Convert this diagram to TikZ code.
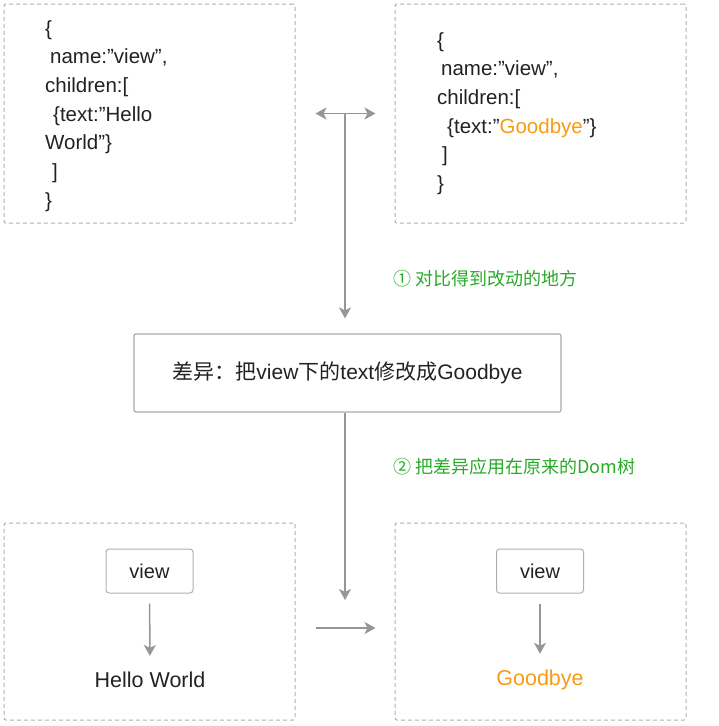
\documentclass[tikz,border=0pt]{standalone}
\usepackage{fontspec}
\setmainfont{Liberation Sans}
\newfontfamily\cjk{Noto Sans CJK SC}
\usepackage{tikz}
\usetikzlibrary{arrows.meta, positioning, calc}
\definecolor{linegray}{RGB}{150,150,150}
\definecolor{dashgray}{RGB}{175,175,175}
\definecolor{stepgreen}{RGB}{40,170,40}
\definecolor{byeorange}{RGB}{247,155,20}
\definecolor{inkdark}{RGB}{34,34,34}
\tikzstyle{frame} = [draw=dashgray, line width=1pt, dash pattern=on 4pt off 3pt, rounded corners=2pt, minimum width=291pt]
\tikzstyle{diffbox} = [draw=linegray!80, line width=1.2pt, rounded corners=2pt, minimum width=427pt, minimum height=78pt, font=\fontsize{21}{24}\selectfont, text=inkdark]
\tikzstyle{viewbox} = [draw=dashgray, line width=1pt, rounded corners=3pt, minimum width=87pt, minimum height=44pt, font=\fontsize{20}{24}\selectfont, text=inkdark]
\tikzstyle{code} = [anchor=north west, inner sep=0pt, align=left, font=\fontsize{20.5}{28.7}\selectfont, text=inkdark]
\tikzstyle{note} = [anchor=west, inner sep=0pt, text=stepgreen, font=\cjk\fontsize{18}{20}\selectfont]
\tikzstyle{arrow} = [draw=linegray, line width=1.5pt, -{Stealth[length=11pt,width=12pt,inset=3pt]}]
\tikzstyle{biarrow} = [draw=linegray, line width=1.5pt, {Stealth[length=11pt,width=12pt,inset=3pt]}-{Stealth[length=11pt,width=12pt,inset=3pt]}]

\begin{document}
\begin{tikzpicture}[x=1pt, y=-1pt]
    \useasboundingbox (0,0) rectangle (718,726);

    % json before and after
    \node[frame, minimum height=219pt] (jsonold) at (149.5,113.5) {};
    \node[frame, minimum height=219pt] (jsonnew) at (540.5,113.5) {};
    \node[code] (codeold) at (45,20) {\{\\
        \hspace{5pt}name:”view”,\\
        children:[\\
        \hspace{8pt}\{text:”Hello\\
        World”\}\\
        \hspace{7pt}]\\
        \}};
    \node[code] (codenew) at (437,32) {\{\\
        \hspace{4pt}name:”view”,\\
        children:[\\
        \hspace{10pt}\{text:”\textcolor{byeorange}{Goodbye}”\}\\
        \hspace{5pt}]\\
        \}};

    % diff
    \node[diffbox] (diff) at (347.5,373) {{\cjk 差异：把}view{\cjk 下的}text{\cjk 修改成}Goodbye};

    % dom trees
    \node[frame, minimum height=197pt] (domold) at (149.5,621.5) {};
    \node[frame, minimum height=197pt] (domnew) at (540.5,621.5) {};
    \node[viewbox] (viewold) at (149.5,571) {view};
    \node[viewbox] (viewnew) at (540,571) {view};
    \node[inner sep=0pt, text=inkdark, font=\fontsize{21.5}{24}\selectfont] (hello) at (150,680) {Hello World};
    \node[inner sep=0pt, text=byeorange, font=\fontsize{21.5}{24}\selectfont] (bye) at (540,680) {Goodbye};

    % steps
    \coordinate (mid) at ($(jsonold.east)!0.5!(jsonnew.west)$);
    \coordinate (apply) at (345,600);
    \node[note] (step1) at (393,279) {① 对比得到改动的地方};
    \node[note] (step2) at (393,467) {② 把差异应用在原来的Dom树};

    \draw[biarrow, shorten <=20pt, shorten >=19pt] (jsonold.east) -- (jsonnew.west);
    \draw[arrow, shorten >=15pt] (mid) -- (mid |- diff.north);
    \draw[arrow] (diff.south -| mid) -- (apply);
    \draw[arrow, shorten <=20pt, shorten >=19pt] ([yshift=-6.5pt]domold.east) -- ([yshift=-6.5pt]domnew.west);
    \draw[arrow, shorten <=10pt, shorten >=16pt] (viewold) -- (hello);
    \draw[arrow, shorten <=10pt, shorten >=16pt] (viewnew) -- (bye);
\end{tikzpicture}
\end{document}
